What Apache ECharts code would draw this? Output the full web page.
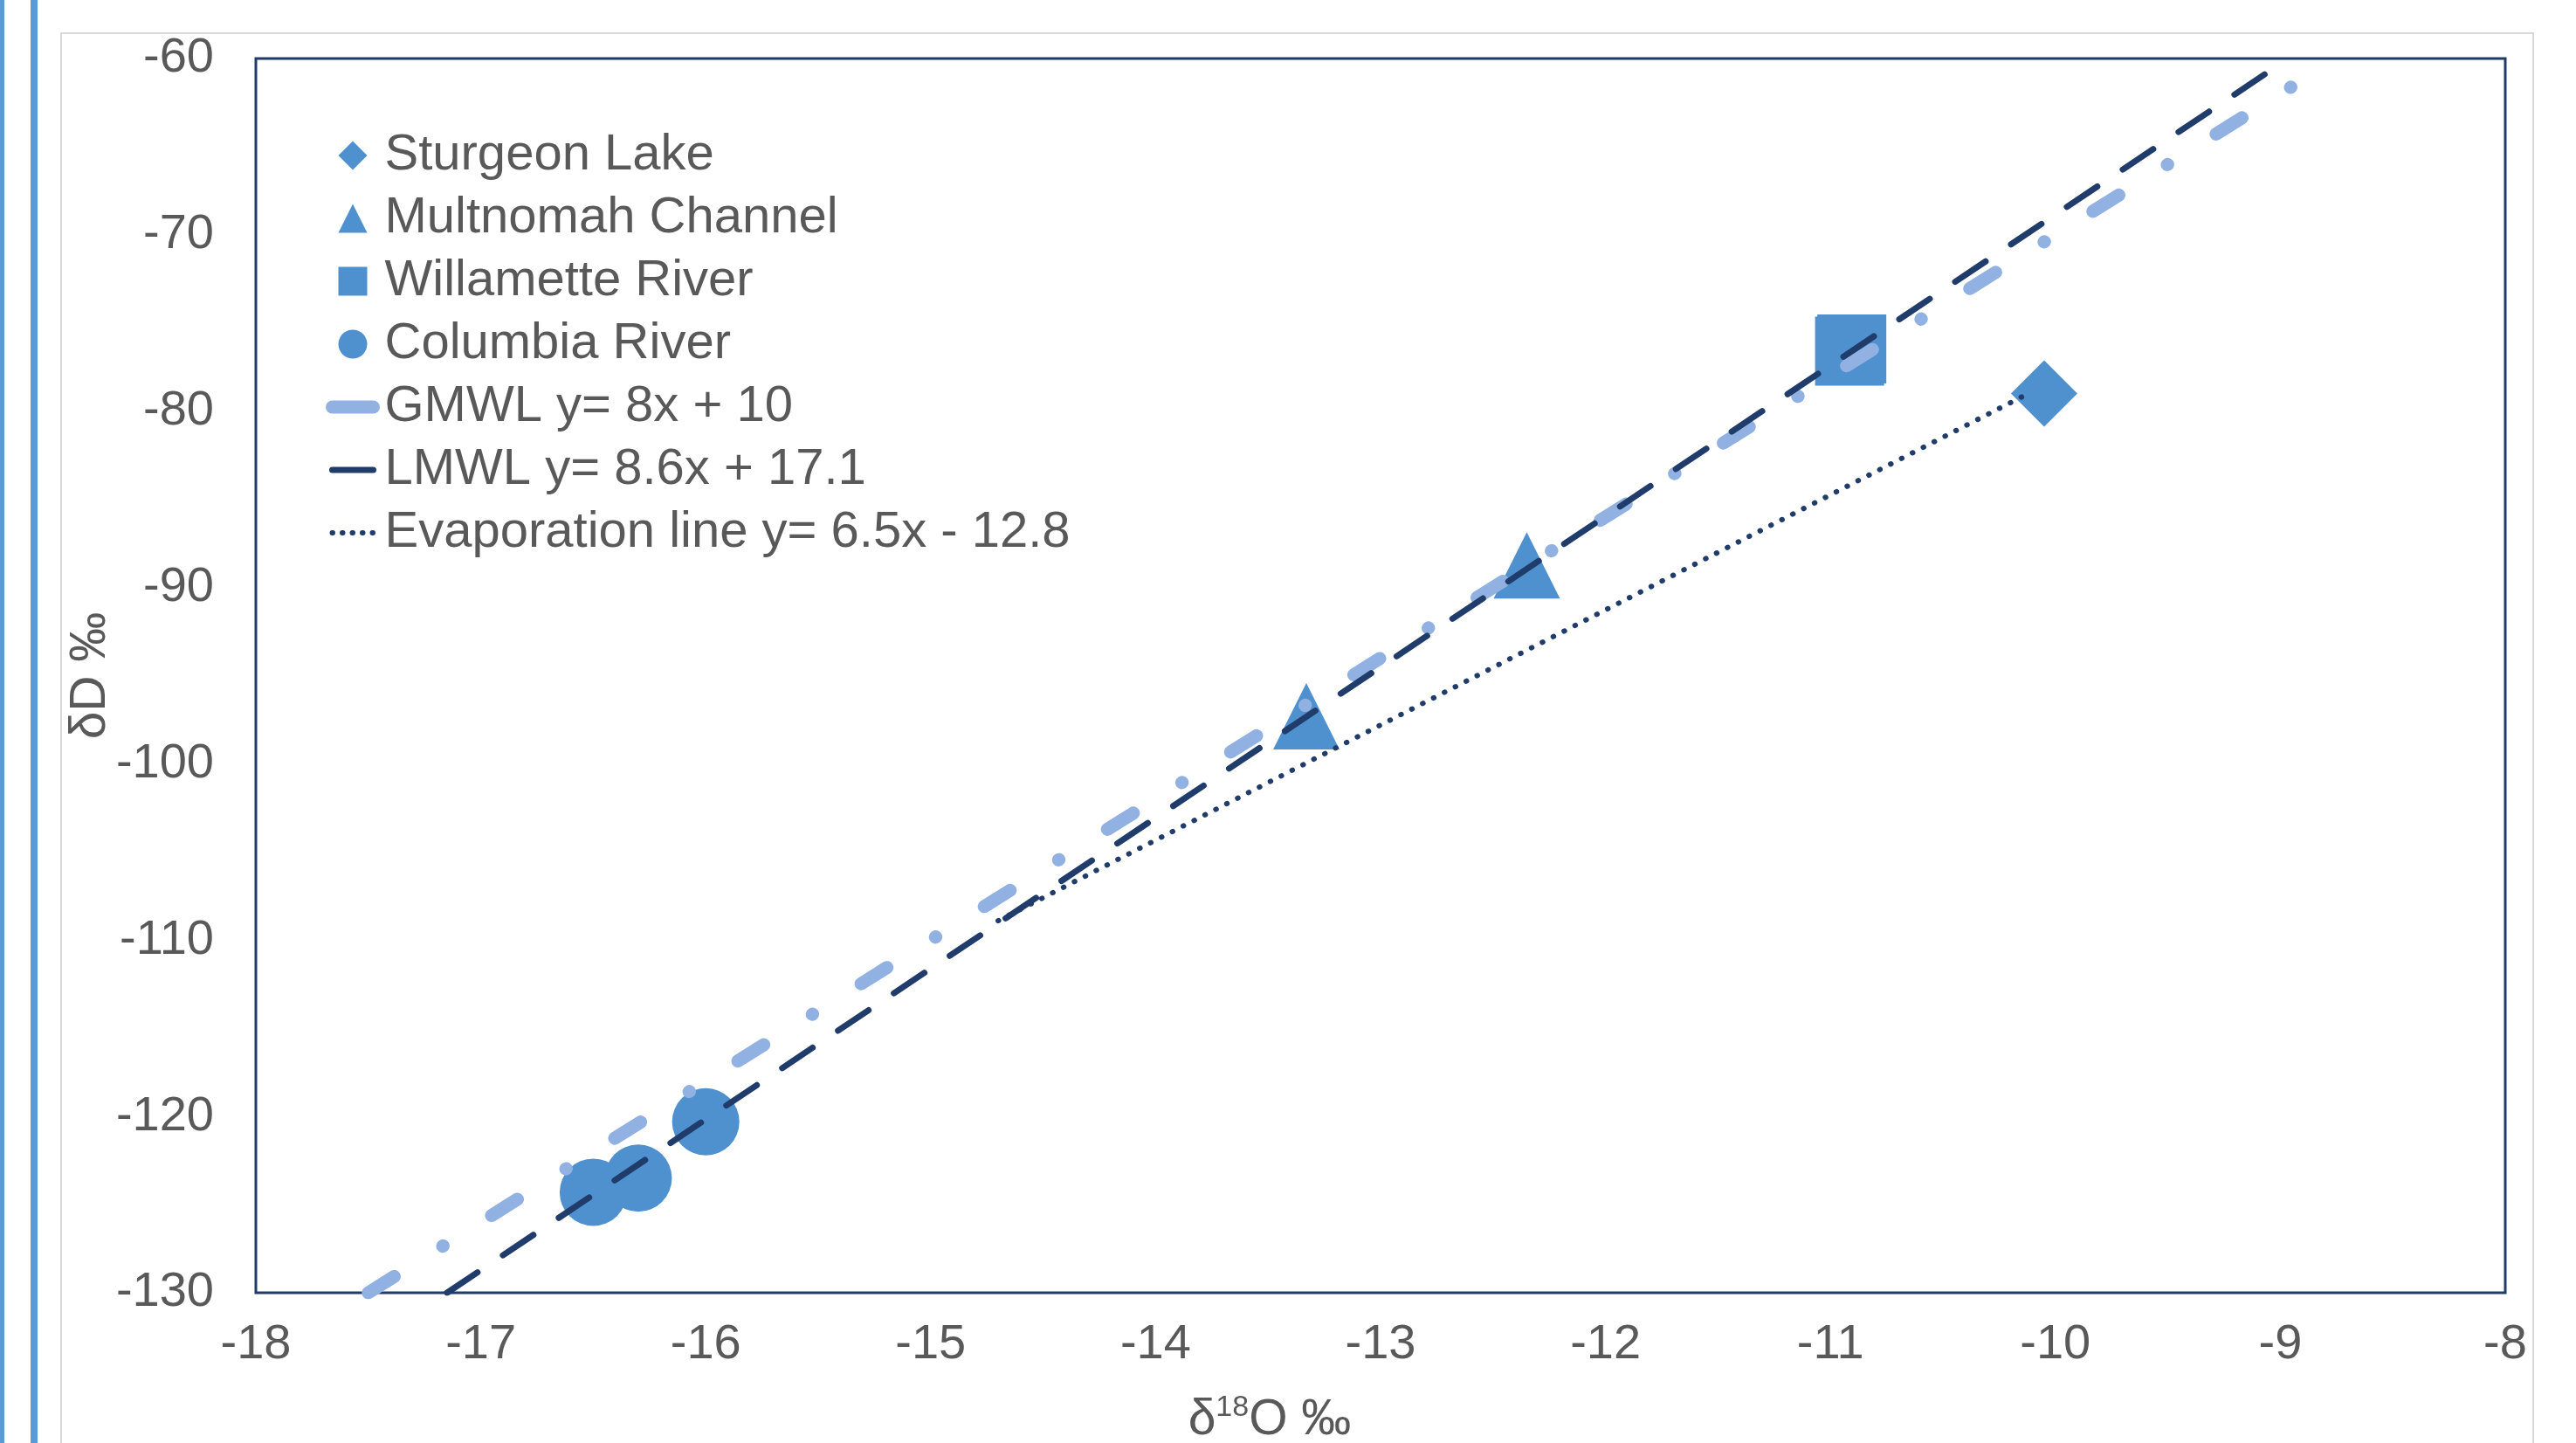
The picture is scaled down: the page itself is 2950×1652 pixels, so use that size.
<!DOCTYPE html>
<html>
<head>
<meta charset="utf-8">
<script src="https://cdn.jsdelivr.net/npm/echarts@6/dist/echarts.min.js"></script>
<style>
  html, body { margin: 0; padding: 0; background: #fff; }
  #chart { width: 2950px; height: 1652px; }
</style>
</head>
<body>
<div id="chart"></div>
<script>
// ---- data ----
const xTicks = [-18, -8, 1];          // min, max, interval of δ18O axis
const yTicks = [-130, -60, 10];       // min, max, interval of δD axis

const sturgeonX = [-10.05];
const sturgeonY = [-79.0];

const multnomahX = [-12.35, -13.33];
const multnomahY = [-88.75, -97.3];

const willametteX = [-10.905, -10.915];
const willametteY = [-76.47, -76.59];

const columbiaX = [-16.0, -16.5, -16.3];
const columbiaY = [-120.3, -124.3, -123.5];

const gmwlX = [-17.5, -8.95];
const gmwlY = [-130, -61.6];

const lmwlX = [-17.15, -9.07];
const lmwlY = [-130, -60.9];

const evapX = [-14.7, -10.12];
const evapY = [-108.9, -79.0];

const names = [
  'Sturgeon Lake', 'Multnomah Channel', 'Willamette River', 'Columbia River',
  'GMWL y= 8x + 10', 'LMWL y= 8.6x + 17.1', 'Evaporation line y= 6.5x - 12.8'
];

// ---- styles ----
const FONT = 'Liberation Sans';
const GREY = '#595959';
const MARK = '#4F91CE';
const LIGHT = '#92B1E3';
const NAVY = '#1F3C6B';

const zip = (xs, ys) => xs.map((x, i) => [x, ys[i]]);

const chart = echarts.init(document.getElementById('chart'), null, { renderer: 'canvas' });

const hideSym = { opacity: 0, color: 'transparent', borderWidth: 0 };
const ICON = {
  diamond: 'path://M5,0L10,5L5,10L0,5Z',
  triangle: 'path://M5,0L10,10L0,10Z',
  square: 'path://M0,0L10,0L10,10L0,10Z',
  circle: 'path://M5,0A5,5,0,1,1,5,10A5,5,0,1,1,5,0Z'
};

const option = {
  animation: false,
  backgroundColor: '#fff',
  textStyle: { fontFamily: FONT },
  graphic: [
    { type: 'rect', shape: { x: 0, y: 0, width: 5, height: 1652 }, style: { fill: '#5B9BD5' }, silent: true },
    { type: 'rect', shape: { x: 35, y: 0, width: 8, height: 1652 }, style: { fill: '#5B9BD5' }, silent: true },
    { type: 'rect', shape: { x: 70, y: 38, width: 2831, height: 1700 }, style: { fill: 'none', stroke: '#D9D9D9', lineWidth: 2 }, silent: true, z: -1 },
    {
      type: 'text', x: 1454, y: 1626, silent: true,
      style: {
        text: '{a|δ}{s|18}{a|O ‰}',
        align: 'center', verticalAlign: 'middle',
        rich: {
          a: { fontSize: 57, fontFamily: FONT, fill: GREY, lineHeight: 62 },
          s: { fontSize: 34, fontFamily: FONT, fill: GREY, verticalAlign: 'top' }
        }
      }
    }
  ],
  grid: {
    left: 293, top: 67, right: 81, bottom: 172,
    show: true, borderColor: NAVY, borderWidth: 3, backgroundColor: 'transparent'
  },
  legend: {
    orient: 'vertical', left: 368, top: 144,
    itemWidth: 47, itemHeight: 33, itemGap: 14,
    symbolKeepAspect: true,
    textStyle: { fontSize: 58, color: GREY, fontFamily: FONT, padding: [0, 0, 0, 8] },
    data: [
      { name: names[0], icon: ICON.diamond, symbolKeepAspect: true, itemStyle: { color: MARK } },
      { name: names[1], icon: ICON.triangle, symbolKeepAspect: true, itemStyle: { color: MARK } },
      { name: names[2], icon: ICON.square, symbolKeepAspect: true, itemStyle: { color: MARK } },
      { name: names[3], icon: ICON.circle, symbolKeepAspect: true, itemStyle: { color: MARK } },
      { name: names[4], itemStyle: hideSym, lineStyle: { width: 15, type: 'solid', cap: 'round', color: LIGHT } },
      { name: names[5], itemStyle: hideSym, lineStyle: { width: 7, type: 'solid', cap: 'round', color: NAVY } },
      { name: names[6], itemStyle: hideSym, lineStyle: { width: 6, type: [0.5, 11], cap: 'round', color: NAVY } }
    ]
  },
  xAxis: {
    type: 'value', min: xTicks[0], max: xTicks[1], interval: xTicks[2],
    axisLine: { show: false }, axisTick: { show: false }, splitLine: { show: false },
    axisLabel: { fontSize: 56, color: GREY, fontFamily: FONT, margin: 32 }
  },
  yAxis: {
    type: 'value', min: yTicks[0], max: yTicks[1], interval: yTicks[2],
    name: 'δD ‰', nameLocation: 'middle', nameGap: 160, nameMoveOverlap: false,
    nameTextStyle: { fontSize: 57, color: GREY, fontFamily: FONT },
    axisLine: { show: false }, axisTick: { show: false }, splitLine: { show: false },
    axisLabel: { fontSize: 56, color: GREY, fontFamily: FONT, margin: 48 }
  },
  series: [
    { name: names[0], type: 'scatter', symbol: 'diamond', symbolSize: 76,
      itemStyle: { color: MARK, opacity: 1 }, data: zip(sturgeonX, sturgeonY) },
    { name: names[1], type: 'scatter', symbol: 'triangle', symbolSize: 76,
      itemStyle: { color: MARK, opacity: 1 }, data: zip(multnomahX, multnomahY) },
    { name: names[2], type: 'scatter', symbol: 'rect', symbolSize: 79,
      itemStyle: { color: MARK, opacity: 1 }, data: zip(willametteX, willametteY) },
    { name: names[3], type: 'scatter', symbol: 'circle', symbolSize: 77,
      itemStyle: { color: MARK, opacity: 1 }, data: zip(columbiaX, columbiaY) },
    { name: names[4], type: 'line', symbol: 'none', showSymbol: false, silent: true,
      itemStyle: { color: LIGHT },
      lineStyle: { color: LIGHT, width: 15, type: [35, 65.5, 0.5, 65.5], cap: 'round' },
      data: zip(gmwlX, gmwlY) },
    { name: names[5], type: 'line', symbol: 'none', showSymbol: false, silent: true,
      itemStyle: { color: NAVY },
      lineStyle: { color: NAVY, width: 7, type: [42, 35], cap: 'round' },
      data: zip(lmwlX, lmwlY) },
    { name: names[6], type: 'line', symbol: 'none', showSymbol: false, silent: true,
      itemStyle: { color: NAVY },
      lineStyle: { color: NAVY, width: 6, type: [0.5, 13.5], cap: 'round' },
      data: zip(evapX, evapY) }
  ]
};

chart.setOption(option);
</script>
</body>
</html>
